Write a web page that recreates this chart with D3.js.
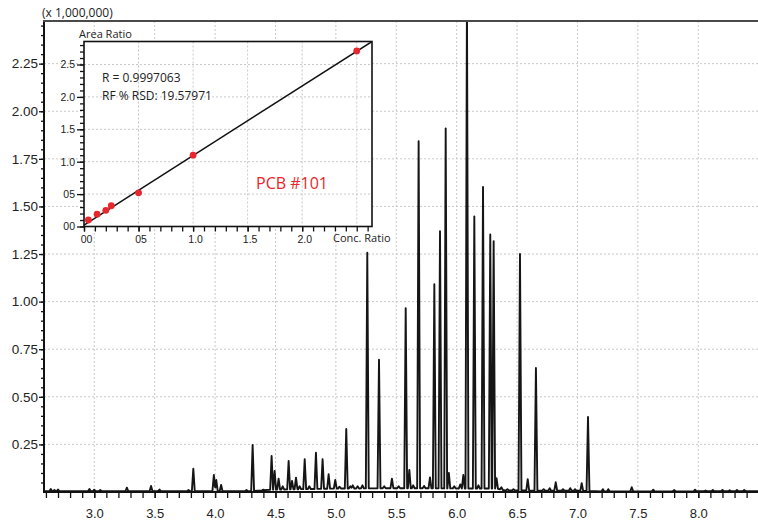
<!DOCTYPE html>
<html>
<head>
<meta charset="utf-8">
<script src="https://cdn.jsdelivr.net/npm/d3@7"></script>
<style>
  body { margin: 0; background: #fff; }
  svg { display: block; font-family: "Open Sans", "DejaVu Sans", sans-serif; }
  .grid line { stroke: #c8c8c8; stroke-width: 1; stroke-dasharray: 2,2; }
  .axis path { display: none; }
  .axis line { stroke: #111; stroke-width: 1.3; }
  .axis text { fill: #222; }
</style>
</head>
<body>
<svg id="chart" width="758" height="524"></svg>
<script>
// chromatogram peaks: retention time (min) and top of peak (x 1,000,000)
const peakTime = [2.64, 2.67, 2.70, 2.96, 3.00, 3.05, 3.27, 3.47, 3.54, 3.78, 3.82,
  3.99, 4.01, 4.05, 4.26, 4.311, 4.40, 4.468, 4.493, 4.526, 4.56, 4.609, 4.637, 4.67,
  4.70, 4.742, 4.78, 4.835, 4.89, 4.94, 4.995, 5.03, 5.086, 5.12, 5.14, 5.18, 5.22,
  5.26, 5.357, 5.40, 5.464, 5.52, 5.578, 5.608, 5.64, 5.685, 5.73, 5.779, 5.815, 5.862,
  5.909, 5.935, 5.98, 6.03, 6.055, 6.085, 6.146, 6.18, 6.218, 6.278, 6.306, 6.33,
  6.37, 6.42, 6.47, 6.524, 6.588, 6.656, 6.72, 6.77, 6.82, 6.88, 6.94, 6.98, 7.035,
  7.087, 7.21, 7.255, 7.449, 7.627, 7.80, 7.973, 8.06, 8.12, 8.2, 8.26, 8.32, 8.38];
const peakHeight = [0.016, 0.010, 0.013, 0.016, 0.012, 0.010, 0.023, 0.032, 0.013, 0.010, 0.122,
  0.089, 0.063, 0.037, 0.010, 0.247, 0.012, 0.189, 0.110, 0.070, 0.030, 0.163, 0.058, 0.075,
  0.030, 0.172, 0.030, 0.206, 0.172, 0.093, 0.063, 0.028, 0.331, 0.030, 0.035, 0.030, 0.035,
  1.257, 0.695, 0.030, 0.070, 0.030, 0.965, 0.116, 0.035, 1.843, 0.032, 0.077, 1.091, 1.370,
  1.910, 0.100, 0.030, 0.040, 0.089, 2.600, 1.448, 0.035, 1.602, 1.353, 1.318, 0.072,
  0.025, 0.015, 0.015, 1.250, 0.067, 0.651, 0.015, 0.020, 0.051, 0.015, 0.020, 0.015, 0.046,
  0.394, 0.015, 0.015, 0.025, 0.012, 0.010, 0.012, 0.008, 0.010, 0.010, 0.009, 0.010, 0.010];
// baseline drift under the peaks
const baseTime = [2.58, 4.30, 4.45, 5.00, 5.50, 6.33, 6.40, 7.10, 7.20, 8.50];
const baseLevel = [0.004, 0.004, 0.012, 0.018, 0.020, 0.018, 0.008, 0.006, 0.003, 0.004];

const xTickLabels = ['3.0', '3.5', '4.0', '4.5', '5.0', '5.5', '6.0', '6.5', '7.0', '7.5', '8.0'];
const yTickLabels = ['0.25', '0.50', '0.75', '1.00', '1.25', '1.50', '1.75', '2.00', '2.25'];

// calibration inset
const concRatio = [0.04, 0.12, 0.20, 0.25, 0.50, 1.00, 2.50];
const areaRatio = [0.10, 0.19, 0.25, 0.32, 0.52, 1.10, 2.71];
const fitSlope = 1.073;
const fitIntercept = 0.022;
const insetXLabels = ['00', '05', '1.0', '1.5', '2.0'];
const insetYLabels = ['00', '05', '1.0', '1.5', '2.0', '2.5'];

const svg = d3.select('#chart');

const x = d3.scaleLinear().domain([2.584, 8.5]).range([44, 758.7]);
const y = d3.scaleLinear().domain([0, 2.474]).range([492, 21]);

// grid
const grid = svg.append('g').attr('class', 'grid');
grid.selectAll('.gx').data(xTickLabels).join('line')
  .attr('x1', d => x(+d)).attr('x2', d => x(+d)).attr('y1', 21).attr('y2', 492);
grid.selectAll('.gy').data(yTickLabels).join('line')
  .attr('x1', 44).attr('x2', 758).attr('y1', d => y(+d)).attr('y2', d => y(+d));

// trace
const base = d3.scaleLinear().domain(baseTime).range(baseLevel).clamp(true);
const hw = 0.012;
const knots = new Set(baseTime);
peakTime.forEach(t => { knots.add(t - hw); knots.add(t); knots.add(t + hw); });
const traceAt = (t) => {
  let v = base(t);
  peakTime.forEach((tp, i) => {
    const k = 1 - Math.abs(t - tp) / hw;
    if (k > 0) v = Math.max(v, base(t) + (peakHeight[i] - base(tp)) * k);
  });
  return v;
};
const trace = Array.from(knots).sort((a, b) => a - b).map(t => [t, traceAt(t)]);

svg.append('clipPath').attr('id', 'plotClip')
  .append('rect').attr('x', 44).attr('y', 21).attr('width', 714).attr('height', 471);

svg.append('path')
  .datum(trace)
  .attr('clip-path', 'url(#plotClip)')
  .attr('fill', 'none')
  .attr('stroke', '#151515')
  .attr('stroke-width', 1.9)
  .attr('stroke-linejoin', 'round')
  .attr('d', d3.line().x(d => x(d[0])).y(d => y(d[1])));

// axes
const xMinor = d3.range(26, 85).map(d => d / 10);
svg.append('g').attr('class', 'axis').attr('transform', 'translate(0,492)')
  .call(d3.axisBottom(x).tickValues(xMinor).tickSize(6).tickFormat(''));
svg.append('g').attr('class', 'axis').attr('transform', 'translate(0,492)')
  .call(d3.axisBottom(x).tickValues(xTickLabels.map(Number)).tickSize(6).tickPadding(11)
    .tickFormat((d, i) => xTickLabels[i]))
  .selectAll('text').style('font-size', '13px');

const yMinor = d3.range(1, 50).map(d => d * 0.05);
svg.append('g').attr('class', 'axis').attr('transform', 'translate(44,0)')
  .call(d3.axisLeft(y).tickValues(yMinor).tickSize(3).tickFormat(''));
svg.append('g').attr('class', 'axis').attr('transform', 'translate(44,0)')
  .call(d3.axisLeft(y).tickValues(yTickLabels.map(Number)).tickSize(5).tickPadding(1)
    .tickFormat((d, i) => yTickLabels[i]))
  .selectAll('text').style('font-size', '13.5px');

svg.append('line').attr('x1', 44).attr('x2', 44).attr('y1', 20).attr('y2', 493)
  .attr('stroke', '#111').attr('stroke-width', 2);
svg.append('line').attr('x1', 43).attr('x2', 758).attr('y1', 492).attr('y2', 492)
  .attr('stroke', '#111').attr('stroke-width', 2);
svg.append('line').attr('x1', 43).attr('x2', 758).attr('y1', 21).attr('y2', 21)
  .attr('stroke', '#4a4a4a').attr('stroke-width', 2);

svg.append('text').attr('x', 42).attr('y', 17)
  .style('font-size', '12px').attr('fill', '#222').text('(x 1,000,000)');

// inset calibration curve
const ix = d3.scaleLinear().domain([0, 2.64]).range([84, 372]);
const iy = d3.scaleLinear().domain([0, 2.855]).range([226.5, 41.5]);

svg.append('rect').attr('x', 84).attr('y', 41.5).attr('width', 288).attr('height', 185)
  .attr('fill', '#fff');

const igrid = svg.append('g').attr('class', 'grid');
const insetGrid = [0.5, 1.0, 1.5, 2.0, 2.5];
igrid.selectAll('.ix').data(insetGrid).join('line')
  .attr('x1', d => ix(d)).attr('x2', d => ix(d)).attr('y1', 41.5).attr('y2', 226.5);
igrid.selectAll('.iy').data(insetGrid).join('line')
  .attr('x1', 84).attr('x2', 372).attr('y1', d => iy(d)).attr('y2', d => iy(d));

svg.append('clipPath').attr('id', 'insetClip')
  .append('rect').attr('x', 84).attr('y', 41.5).attr('width', 288).attr('height', 185);

svg.append('line')
  .attr('clip-path', 'url(#insetClip)')
  .attr('x1', ix(0)).attr('y1', iy(fitIntercept))
  .attr('x2', ix(2.64)).attr('y2', iy(fitIntercept + fitSlope * 2.64))
  .attr('stroke', '#111').attr('stroke-width', 1.5);

svg.append('g').selectAll('circle').data(concRatio).join('circle')
  .attr('cx', d => ix(d)).attr('cy', (d, i) => iy(areaRatio[i])).attr('r', 3.4)
  .attr('fill', '#e8262d');

svg.append('rect').attr('x', 84).attr('y', 41.5).attr('width', 288).attr('height', 185)
  .attr('fill', 'none').attr('stroke', '#111').attr('stroke-width', 1.6);

svg.append('g').attr('class', 'axis').attr('transform', 'translate(0,226.5)')
  .call(d3.axisBottom(ix).tickValues(d3.range(0, 27).map(d => d / 10)).tickSize(5).tickFormat(''));
svg.append('g').attr('class', 'axis').attr('transform', 'translate(0,226.5)')
  .call(d3.axisBottom(ix).tickValues([0, 0.5, 1.0, 1.5, 2.0]).tickSize(5).tickPadding(4)
    .tickFormat((d, i) => insetXLabels[i]))
  .selectAll('text').style('font-size', '10.5px').attr('dx', 2);

svg.append('g').attr('class', 'axis').attr('transform', 'translate(84,0)')
  .call(d3.axisLeft(iy).tickValues(d3.range(0, 29).map(d => d / 10)).tickSize(4).tickFormat(''));
svg.append('g').attr('class', 'axis').attr('transform', 'translate(84,0)')
  .call(d3.axisLeft(iy).tickValues([0, 0.5, 1.0, 1.5, 2.0, 2.5]).tickSize(7).tickPadding(2)
    .tickFormat((d, i) => insetYLabels[i]))
  .selectAll('text').style('font-size', '10.5px');

svg.append('text').attr('x', 79).attr('y', 37.5)
  .style('font-size', '11px').attr('fill', '#222').text('Area Ratio');
svg.append('text').attr('x', 333).attr('y', 242)
  .style('font-size', '11px').attr('fill', '#222').text('Conc. Ratio');
svg.append('text').attr('x', 102).attr('y', 82)
  .style('font-size', '12px').attr('fill', '#222').text('R = 0.9997063');
svg.append('text').attr('x', 102).attr('y', 100)
  .style('font-size', '12px').attr('fill', '#222').text('RF % RSD: 19.57971');
svg.append('text').attr('x', 256).attr('y', 188.5)
  .style('font-size', '16px').attr('fill', '#e8262d').text('PCB #101');
</script>
</body>
</html>
